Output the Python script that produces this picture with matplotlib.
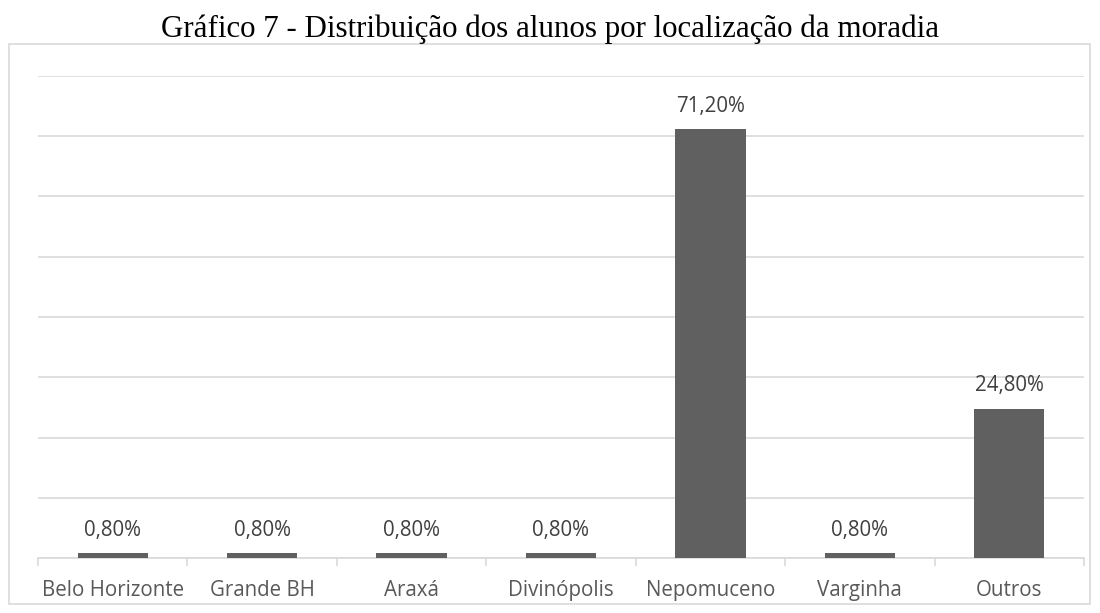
import matplotlib.pyplot as plt
from matplotlib.patches import Rectangle
from matplotlib.ticker import MultipleLocator, FixedLocator

# data
categorias = ["Belo Horizonte", "Grande BH", "Araxá", "Divinópolis", "Nepomuceno", "Varginha", "Outros"]
percentuais = [0.8, 0.8, 0.8, 0.8, 71.2, 0.8, 24.8]
rotulos = ["0,80%", "0,80%", "0,80%", "0,80%", "71,20%", "0,80%", "24,80%"]

W, H = 1100, 613
fig = plt.figure(figsize=(W / 100, H / 100), dpi=100)

# outer chart border
fig.patches.append(Rectangle((9 / W, 1 - 604 / H), (1090 - 9) / W, (604 - 44) / H,
                             transform=fig.transFigure, fill=False,
                             edgecolor="#d9d9d9", linewidth=1.2))

fig.text(550 / W, 1 - 29 / H, "Gráfico 7 - Distribuição dos alunos por localização da moradia",
         ha="center", va="center", family="Liberation Serif", fontsize=22.3, color="black")

ax = fig.add_axes([38 / W, 1 - 558 / H, (1084 - 38) / W, (558 - 76) / H])
x = range(len(categorias))
ax.bar(x, percentuais, width=0.47, color="#606060", zorder=3)

ax.set_xlim(-0.5, len(categorias) - 0.5)
ax.set_ylim(0, 80)
ax.yaxis.set_major_locator(MultipleLocator(10))
ax.grid(axis="y", color="#d9d9d9", linewidth=1.2, zorder=0)
ax.tick_params(axis="y", left=False, labelleft=False)

for s in ["top", "right", "left"]:
    ax.spines[s].set_visible(False)
ax.spines["bottom"].set_color("#d9d9d9")
ax.spines["bottom"].set_linewidth(1.2)

ax.set_xticks(list(x))
ax.set_xticklabels(categorias, family="Open Sans", fontsize=14.8, color="#595959")
ax.tick_params(axis="x", which="major", length=0, pad=16)
ax.xaxis.set_minor_locator(FixedLocator([i - 0.5 for i in range(len(categorias) + 1)]))
ax.tick_params(axis="x", which="minor", length=6, width=1.2, color="#d9d9d9")

for i, (v, r) in enumerate(zip(percentuais, rotulos)):
    ax.annotate(r, (i, v), xytext=(0, 9), textcoords="offset points",
                ha="center", va="bottom", family="Open Sans", fontsize=14.8, color="#404040")

fig.savefig("out.png", dpi=100)
